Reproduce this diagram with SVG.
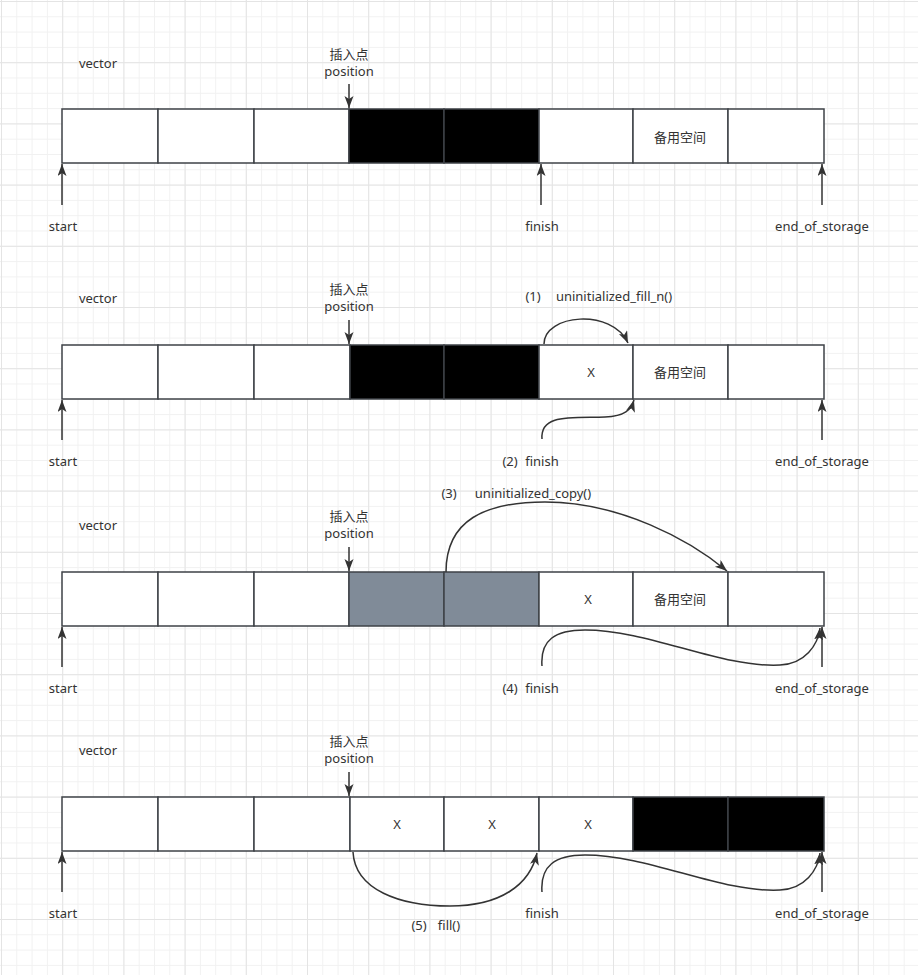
<svg xmlns="http://www.w3.org/2000/svg" width="918" height="975" viewBox="0 0 918 975">
<style>
text{font-family:"Noto Sans","Noto Sans CJK SC",sans-serif;font-size:13px;fill:#333;text-anchor:middle}
.c{fill:#fff;stroke:#3e4247;stroke-width:1.5}
.b{fill:#000;stroke:#3e4247;stroke-width:1.5}
.g{fill:#808b98;stroke:#3e4247;stroke-width:1.5}
.e{fill:none;stroke:#333;stroke-width:1.5;marker-end:url(#ah)}
</style>
<defs>
<pattern id="minor" width="15.3" height="15.3" patternUnits="userSpaceOnUse" x="1" y="1">
<path d="M0,0.5 H15.3 M0.5,0 V15.3" fill="none" stroke="#f1f1f1" stroke-width="1"/>
</pattern>
<pattern id="major" width="61.2" height="61.2" patternUnits="userSpaceOnUse" x="1" y="1">
<path d="M0,0.5 H61.2 M0.5,0 V61.2" fill="none" stroke="#e4e4e4" stroke-width="1"/>
</pattern>
<marker id="ah" markerUnits="userSpaceOnUse" markerWidth="14" markerHeight="12" refX="12" refY="4.5" orient="auto">
<path d="M0,0 L12,4.5 L0,9 L3,4.5 z" fill="#333"/>
</marker>
</defs>
<rect width="918" height="975" fill="#fff"/>
<rect width="918" height="975" fill="url(#minor)"/>
<rect width="918" height="975" fill="url(#major)"/>

<!-- Row 1 -->
<g id="row1">
<g id="r1c1"><rect class="c" x="62" y="109" width="96" height="54"/></g>
<g id="r1c2"><rect class="c" x="158" y="109" width="96" height="54"/></g>
<g id="r1c3"><rect class="c" x="254" y="109" width="95" height="54"/></g>
<g id="r1c4"><rect class="b" x="349" y="109" width="95" height="54"/></g>
<g id="r1c5"><rect class="b" x="444" y="109" width="95" height="54"/></g>
<g id="r1c6"><rect class="c" x="539" y="109" width="94" height="54"/></g>
<g id="r1c7"><rect class="c" x="633" y="109" width="95" height="54"/><text x="680" y="142">备用空间</text></g>
<g id="r1c8"><rect class="c" x="728" y="109" width="96" height="54"/></g>
</g>
<g id="r1labels">
<text x="98" y="68">vector</text>
<text x="349" y="59">插入点</text>
<text x="349" y="76">position</text>
<text x="63" y="231">start</text>
<text x="542" y="231">finish</text>
<text x="822" y="231">end_of_storage</text>
</g>

<!-- Row 2 -->
<g id="row2">
<g id="r2c1"><rect class="c" x="62" y="345" width="96" height="54"/></g>
<g id="r2c2"><rect class="c" x="158" y="345" width="96" height="54"/></g>
<g id="r2c3"><rect class="c" x="254" y="345" width="96" height="54"/></g>
<g id="r2c4"><rect class="b" x="350" y="345" width="94" height="54"/></g>
<g id="r2c5"><rect class="b" x="444" y="345" width="95" height="54"/></g>
<g id="r2c6"><rect class="c" x="539" y="345" width="94" height="54"/><text x="591" y="377">X</text></g>
<g id="r2c7"><rect class="c" x="633" y="345" width="95" height="54"/><text x="680" y="377">备用空间</text></g>
<g id="r2c8"><rect class="c" x="728" y="345" width="96" height="54"/></g>
</g>
<g id="r2labels">
<text x="98" y="303">vector</text>
<text x="349" y="294">插入点</text>
<text x="349" y="311">position</text>
<text y="301"><tspan x="533">(1)</tspan><tspan x="614">uninitialized_fill_n()</tspan></text>
<text y="466"><tspan x="510">(2)</tspan><tspan x="542">finish</tspan></text>
<text x="63" y="466">start</text>
<text x="822" y="466">end_of_storage</text>
</g>

<!-- Row 3 -->
<g id="row3">
<g id="r3c1"><rect class="c" x="62" y="572" width="96" height="54"/></g>
<g id="r3c2"><rect class="c" x="158" y="572" width="96" height="54"/></g>
<g id="r3c3"><rect class="c" x="254" y="572" width="95" height="54"/></g>
<g id="r3c4"><rect class="g" x="349" y="572" width="95" height="54"/></g>
<g id="r3c5"><rect class="g" x="444" y="572" width="95" height="54"/></g>
<g id="r3c6"><rect class="c" x="539" y="572" width="94" height="54"/><text x="588" y="604">X</text></g>
<g id="r3c7"><rect class="c" x="633" y="572" width="95" height="54"/><text x="680" y="604">备用空间</text></g>
<g id="r3c8"><rect class="c" x="728" y="572" width="96" height="54"/></g>
</g>
<g id="r3labels">
<text x="98" y="530">vector</text>
<text x="349" y="521">插入点</text>
<text x="349" y="538">position</text>
<text y="498"><tspan x="449">(3)</tspan><tspan x="533">uninitialized_copy()</tspan></text>
<text y="693"><tspan x="510">(4)</tspan><tspan x="542">finish</tspan></text>
<text x="63" y="693">start</text>
<text x="822" y="693">end_of_storage</text>
</g>

<!-- Row 4 -->
<g id="row4">
<g id="r4c1"><rect class="c" x="62" y="797" width="96" height="54"/></g>
<g id="r4c2"><rect class="c" x="158" y="797" width="96" height="54"/></g>
<g id="r4c3"><rect class="c" x="254" y="797" width="96" height="54"/></g>
<g id="r4c4"><rect class="c" x="350" y="797" width="94" height="54"/><text x="397" y="829">X</text></g>
<g id="r4c5"><rect class="c" x="444" y="797" width="95" height="54"/><text x="492" y="829">X</text></g>
<g id="r4c6"><rect class="c" x="539" y="797" width="94" height="54"/><text x="588" y="829">X</text></g>
<g id="r4c7"><rect class="b" x="633" y="797" width="95" height="54"/></g>
<g id="r4c8"><rect class="b" x="728" y="797" width="96" height="54"/></g>
</g>
<g id="r4labels">
<text x="98" y="755">vector</text>
<text x="349" y="746">插入点</text>
<text x="349" y="763">position</text>
<text y="930"><tspan x="419">(5)</tspan><tspan x="449">fill()</tspan></text>
<text x="63" y="918">start</text>
<text x="542" y="918">finish</text>
<text x="822" y="918">end_of_storage</text>
</g>

<!-- Connectors -->
<g id="connectors">
<!-- row 1 -->
<path class="e" d="M349,84 V108"/>
<path class="e" d="M62,205 V164"/>
<path class="e" d="M541,205 V164"/>
<path class="e" d="M822,205 V164"/>
<!-- row 2 -->
<path class="e" d="M349,320 V344"/>
<path class="e" d="M62,440 V400"/>
<path class="e" d="M822,440 V400"/>
<path class="e" d="M544,344 C544,314 612,308 628,343"/>
<path class="e" d="M542,439 C540,414 570,418 605,417 C625,416 631,410 634,400"/>
<!-- row 3 -->
<path class="e" d="M349,547 V571"/>
<path class="e" d="M62,667 V627"/>
<path class="e" d="M822,667 V627"/>
<path class="e" d="M446,572 C446,520 485,502 545,502 C620,502 690,540 727,571"/>
<path class="e" d="M542,666 C540,640 555,630 585,630 C650,630 720,668 780,665 C805,664 818,645 820,628"/>
<!-- row 4 -->
<path class="e" d="M349,772 V796"/>
<path class="e" d="M62,892 V852"/>
<path class="e" d="M822,892 V852"/>
<path class="e" d="M353,852 C355,890 400,906 450,906 C500,906 530,885 537,853"/>
<path class="e" d="M542,892 C540,866 555,855 585,855 C650,855 720,893 780,890 C805,889 818,870 820,853"/>
</g>
</svg>
